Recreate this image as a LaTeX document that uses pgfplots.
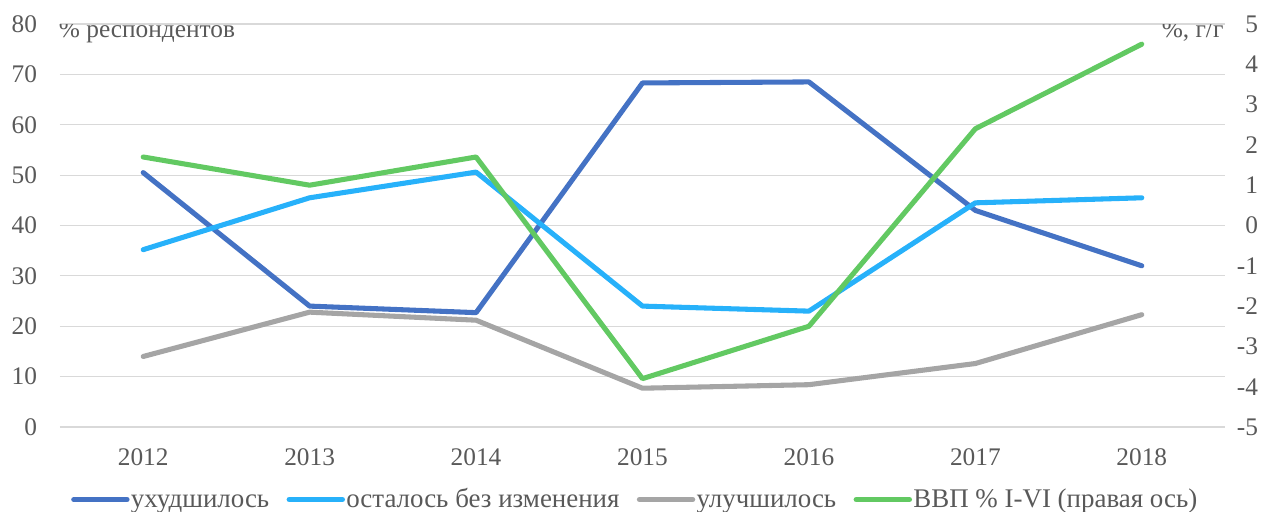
\documentclass[border=0pt]{standalone}
\usepackage{fontspec}
\setmainfont{Liberation Serif}
\usepackage{pgfplots}
\pgfplotsset{compat=1.18}
\definecolor{cDark}{HTML}{4472C4}
\definecolor{cLight}{HTML}{27B1FA}
\definecolor{cGray}{HTML}{A5A5A5}
\definecolor{cGreen}{HTML}{62C962}
\definecolor{cText}{HTML}{595959}
\definecolor{cGrid}{HTML}{D9D9D9}
\newcommand{\tf}{\fontsize{19}{22}\selectfont}
\pgfplotsset{
  base/.style={
    at={(45pt,63pt)}, anchor=south west,
    width=873.75pt, height=302.25pt, scale only axis,
    xmin=-0.5, xmax=6.5,
    axis line style={draw=none},
    tick style={draw=none},
    /pgf/number format/assume math mode=true,
    ticklabel style={font=\tf, text=cText, inner sep=0pt},
    every axis plot/.append style={line width=3.8pt, line join=round, line cap=round},
  }
}
\begin{document}
\begin{tikzpicture}
\useasboundingbox (0,0) rectangle (951pt,383.25pt);
\begin{axis}[base,
  ymin=0, ymax=80, ytick={0,10,...,80},
  ymajorgrids, grid style={cGrid, line width=0.9pt},
  xtick={0,...,6}, xticklabels={2012,2013,2014,2015,2016,2017,2018},
  xticklabel style={anchor=north, yshift=-16pt},
  yticklabel style={anchor=east, xshift=-17pt},
  legend style={at={(0.4935,-0.185)}, anchor=center, draw=none, fill=none,
    font=\fontsize{20.2}{22}\selectfont, text=cText,
    /tikz/every even column/.append style={column sep=12pt},
    nodes={inner sep=1pt, text height=12pt, text depth=3pt}},
  legend columns=4,
  legend image code/.code={\draw[#1, line cap=round] (0,1.5pt) -- (40pt,1.5pt);},
]
\addplot[cDark] coordinates {(0,50.5) (1,24) (2,22.7) (3,68.3) (4,68.5) (5,43) (6,32)};
\addlegendentry{ухудшилось}
\addplot[cLight] coordinates {(0,35.2) (1,45.5) (2,50.6) (3,24) (4,23) (5,44.5) (6,45.5)};
\addlegendentry{осталось без изменения}
\addplot[cGray] coordinates {(0,14) (1,22.8) (2,21.2) (3,7.7) (4,8.4) (5,12.6) (6,22.3)};
\addlegendentry{улучшилось}
\addlegendimage{cGreen, line width=3.8pt}
\addlegendentry{ВВП \% I-VI (правая ось)}
\node[anchor=west, inner sep=0, text=cText, font=\tf] at (rel axis cs:0,1) [yshift=-6pt, xshift=-1pt] {\% респондентов};
\end{axis}
\begin{axis}[base,
  ymin=-5, ymax=5, ytick={-5,-4,...,5},
  axis y line*=right, axis x line=none,
  yticklabel style={anchor=east, xshift=25pt},
]
\addplot[cGreen] coordinates {(0,1.7) (1,1.0) (2,1.7) (3,-3.8) (4,-2.5) (5,2.4) (6,4.5)};
\node[anchor=east, inner sep=0, text=cText, font=\tf] at (rel axis cs:1,1) [yshift=-5pt, xshift=-1pt] {\%, г/г};
\end{axis}
\end{tikzpicture}
\end{document}
